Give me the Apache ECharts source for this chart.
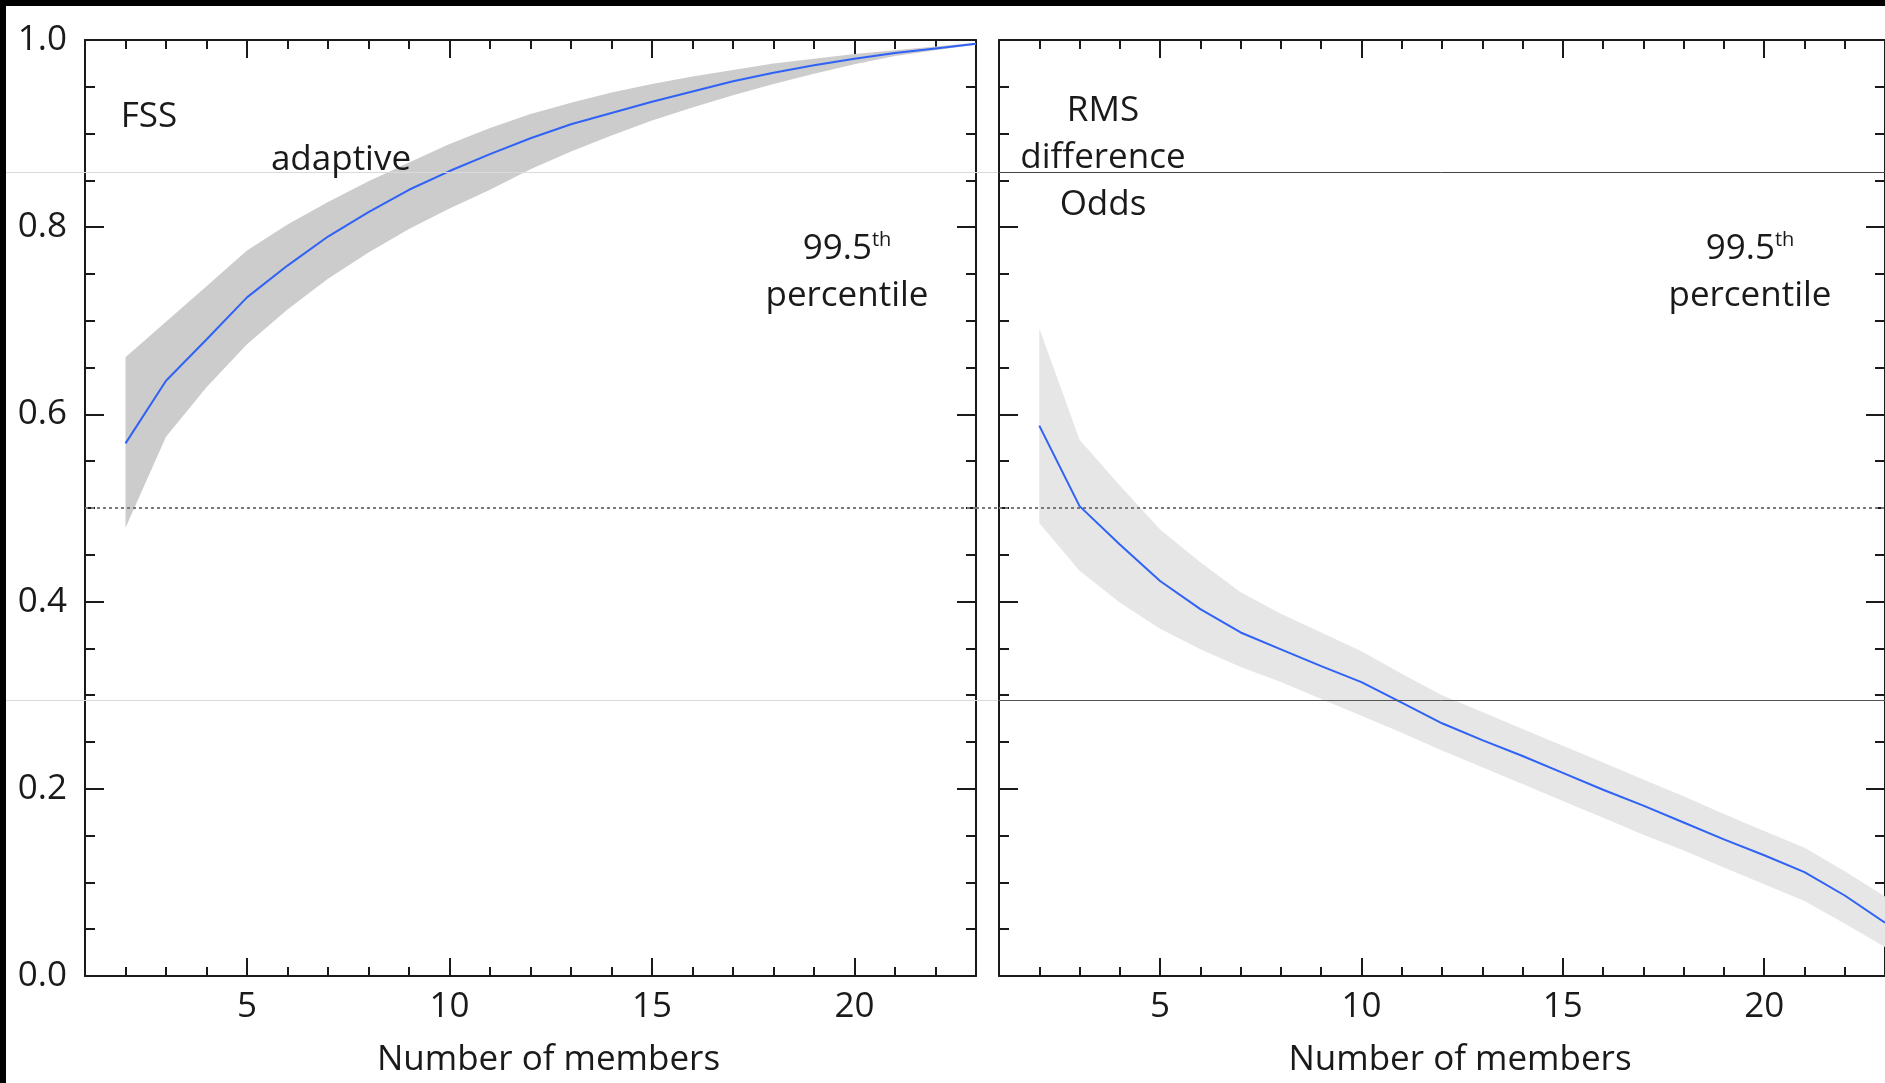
<!DOCTYPE html>
<html>
<head>
<meta charset="utf-8">
<script src="https://cdn.jsdelivr.net/npm/echarts@6.0.0/dist/echarts.min.js"></script>
<style>
  html, body { margin: 0; padding: 0; background: #fff; }
  #main { width: 1885px; height: 1083px; }
</style>
</head>
<body>
<div id="main"></div>
<script>
// number of members on the x axis
const members = [2, 3, 4, 5, 6, 7, 8, 9, 10, 11, 12, 13, 14, 15, 16, 17, 18, 19, 20, 21, 22, 23];

// left panel: FSS, adaptive threshold
const fssMean  = [0.569, 0.636, 0.680, 0.725, 0.759, 0.790, 0.816, 0.840, 0.860, 0.878, 0.895, 0.910, 0.922, 0.934, 0.945, 0.956, 0.965, 0.973, 0.980, 0.986, 0.991, 0.996];
const fssUpper = [0.661, 0.699, 0.737, 0.775, 0.803, 0.827, 0.849, 0.869, 0.889, 0.906, 0.921, 0.933, 0.944, 0.953, 0.961, 0.968, 0.975, 0.980, 0.985, 0.989, 0.993, 0.997];
const fssLower = [0.479, 0.576, 0.629, 0.675, 0.712, 0.745, 0.773, 0.798, 0.820, 0.840, 0.862, 0.881, 0.898, 0.914, 0.928, 0.941, 0.953, 0.964, 0.974, 0.983, 0.989, 0.995];

// right panel: RMS difference of odds
const rmsMean  = [0.588, 0.502, 0.461, 0.422, 0.392, 0.367, 0.349, 0.331, 0.314, 0.292, 0.270, 0.252, 0.235, 0.217, 0.199, 0.182, 0.164, 0.146, 0.129, 0.111, 0.086, 0.057];
const rmsUpper = [0.692, 0.573, 0.524, 0.477, 0.442, 0.410, 0.387, 0.367, 0.347, 0.323, 0.300, 0.282, 0.264, 0.246, 0.228, 0.210, 0.192, 0.173, 0.155, 0.137, 0.112, 0.085];
const rmsLower = [0.484, 0.433, 0.399, 0.371, 0.349, 0.330, 0.314, 0.296, 0.278, 0.260, 0.241, 0.223, 0.205, 0.187, 0.169, 0.151, 0.134, 0.116, 0.098, 0.080, 0.056, 0.031];

// ticks
const xMajor = [5, 10, 15, 20];
const xMinor = [2, 3, 4, 6, 7, 8, 9, 11, 12, 13, 14, 16, 17, 18, 19, 21, 22];
const refLevel = 0.5;

const FONT = '"Open Sans", sans-serif';
const INK = '#1a1a1a';
const BLUE = '#2f62f5';
const DOTS = '#7a7a7a';

const chart = echarts.init(document.getElementById('main'));

const pairs = ys => members.map((m, i) => [m, ys[i]]);

// 4 x axes per grid: bottom/top, minor/major ticks
function xAxes(g) {
  const base = { type: 'value', gridIndex: g, min: 1, max: 23, splitLine: { show: false } };
  const tickStyle = { color: INK, width: 2 };
  return [
    {
      ...base, position: 'bottom',
      axisLine: { show: true, lineStyle: { color: INK, width: 2 } },
      axisTick: { inside: true, length: 9, customValues: xMinor, lineStyle: tickStyle },
      axisLabel: { customValues: xMajor, margin: 14, color: INK, fontFamily: FONT, fontSize: 35 },
      name: 'Number of members', nameLocation: 'middle', nameGap: 67,
      nameTextStyle: { color: INK, fontFamily: FONT, fontSize: 35, padding: [0, 0, 0, 36] }
    },
    {
      ...base, position: 'bottom', axisLine: { show: false },
      axisTick: { inside: true, length: 18, customValues: xMajor, lineStyle: tickStyle },
      axisLabel: { show: false }
    },
    {
      ...base, position: 'top',
      axisLine: { show: true, lineStyle: { color: INK, width: 2 } },
      axisTick: { inside: true, length: 9, customValues: xMinor, lineStyle: tickStyle },
      axisLabel: { show: false }
    },
    {
      ...base, position: 'top', axisLine: { show: false },
      axisTick: { inside: true, length: 18, customValues: xMajor, lineStyle: tickStyle },
      axisLabel: { show: false }
    }
  ];
}

function yAxes(g, labels) {
  const base = {
    type: 'value', gridIndex: g, min: 0, max: 1, interval: 0.2,
    splitLine: { show: false },
    axisLine: { show: true, lineStyle: { color: INK, width: 2 } },
    axisTick: { show: true, inside: true, length: 19, lineStyle: { color: INK, width: 2 } },
    minorTick: { show: true, splitNumber: 4, length: 10, lineStyle: { color: INK, width: 2 } }
  };
  return [
    {
      ...base, position: 'left',
      axisLabel: labels
        ? { margin: 18, color: INK, fontFamily: FONT, fontSize: 35, formatter: v => v.toFixed(1) }
        : { show: false }
    },
    { ...base, position: 'right', axisLabel: { show: false } }
  ];
}

function panel(g, lo, hi, mean, bandColor) {
  const ax = { xAxisIndex: g * 4, yAxisIndex: g * 2 };
  return [
    {
      // 99.5th percentile envelope, drawn once as a polygon through the axes
      type: 'custom', ...ax, silent: true, z: 2,
      data: members.map((m, i) => [m, lo[i], hi[i]]),
      encode: { x: 0, y: [1, 2] },
      renderItem(params, api) {
        if (params.dataIndex !== 0) return null;
        const top = members.map((m, i) => api.coord([m, hi[i]]));
        const bot = members.map((m, i) => api.coord([m, lo[i]])).reverse();
        return { type: 'polygon', shape: { points: top.concat(bot) }, style: { fill: bandColor } };
      }
    },
    {
      type: 'line', ...ax, data: pairs(mean),
      symbol: 'none', lineStyle: { color: BLUE, width: 2 }, z: 5,
      markLine: {
        silent: true, symbol: 'none', label: { show: false }, z: 4,
        lineStyle: { color: DOTS, width: 2, type: [3, 3] },
        data: [{ yAxis: refLevel }]
      }
    }
  ];
}

const textStyle = { font: '35px ' + FONT, fill: INK, align: 'center', verticalAlign: 'middle' };
const pctRich = {
  n: { fontSize: 35, fontFamily: FONT, lineHeight: 47, fill: INK },
  s: { fontSize: 20, fontFamily: FONT, lineHeight: 47, fill: INK, verticalAlign: 'top', padding: [4, 0, 0, 0] }
};

chart.setOption({
  animation: false,
  backgroundColor: '#fff',
  grid: [
    { left: 85, top: 40, width: 891, height: 937 },
    { left: 999, top: 40, width: 889, height: 937 }
  ],
  xAxis: [...xAxes(0), ...xAxes(1)],
  yAxis: [...yAxes(0, true), ...yAxes(1, false)],
  series: [
    ...panel(0, fssLower, fssUpper, fssMean, '#cccccc'),
    ...panel(1, rmsLower, rmsUpper, rmsMean, '#e6e6e6')
  ]
});

// dotted reference line across the gap between the two panels
const gapA = chart.convertToPixel({ xAxisIndex: 0, yAxisIndex: 0 }, [23, refLevel]);
const gapB = chart.convertToPixel({ xAxisIndex: 4, yAxisIndex: 2 }, [1, refLevel]);

chart.setOption({
  graphic: [
    { type: 'rect', shape: { x: 0, y: 0, width: 1885, height: 6 }, style: { fill: '#000' }, z: 100 },
    { type: 'rect', shape: { x: 0, y: 0, width: 6, height: 1083 }, style: { fill: '#000' }, z: 100 },
    { type: 'line', shape: { x1: 0, y1: 172.5, x2: 998, y2: 172.5 }, style: { stroke: '#dadada', lineWidth: 1 }, z: 90 },
    { type: 'line', shape: { x1: 998, y1: 172.5, x2: 1885, y2: 172.5 }, style: { stroke: '#444', lineWidth: 1 }, z: 90 },
    { type: 'line', shape: { x1: 0, y1: 700.5, x2: 998, y2: 700.5 }, style: { stroke: '#dadada', lineWidth: 1 }, z: 90 },
    { type: 'line', shape: { x1: 998, y1: 700.5, x2: 1885, y2: 700.5 }, style: { stroke: '#555', lineWidth: 1 }, z: 90 },
    {
      type: 'line', shape: { x1: gapA[0], y1: gapA[1], x2: gapB[0], y2: gapB[1] },
      style: { stroke: DOTS, lineWidth: 2, lineDash: [3, 3] }, z: 50
    },
    { type: 'text', x: 149, y: 117, z: 100, style: { ...textStyle, text: 'FSS' } },
    { type: 'text', x: 341, y: 160, z: 100, style: { ...textStyle, text: 'adaptive' } },
    { type: 'text', x: 1103, y: 158, z: 100, style: { ...textStyle, lineHeight: 47, text: 'RMS\ndifference\nOdds' } },
    { type: 'text', x: 847, y: 273, z: 100, style: { ...textStyle, text: '{n|99.5}{s|th}\n{n|percentile}', rich: pctRich } },
    { type: 'text', x: 1750, y: 273, z: 100, style: { ...textStyle, text: '{n|99.5}{s|th}\n{n|percentile}', rich: pctRich } }
  ]
});
</script>
</body>
</html>
